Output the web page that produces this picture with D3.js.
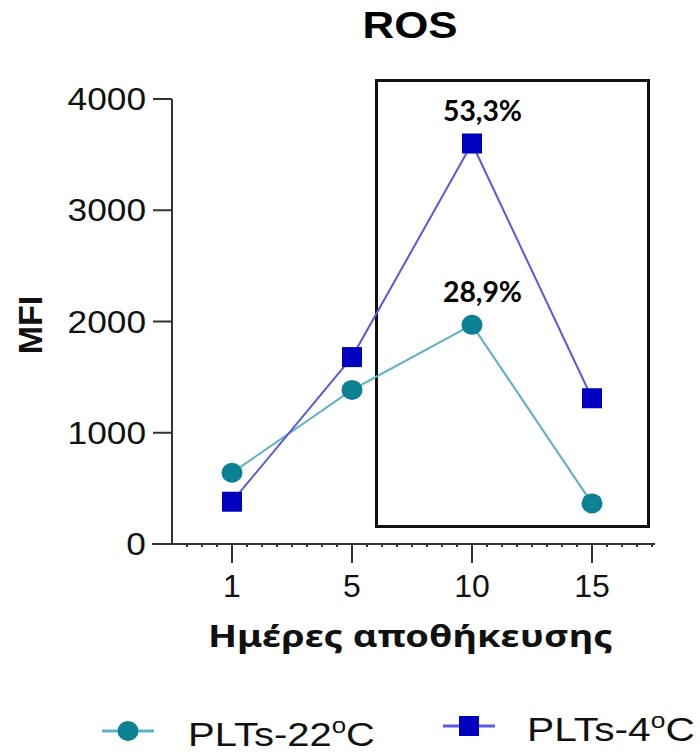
<!DOCTYPE html>
<html>
<head>
<meta charset="utf-8">
<script src="https://cdn.jsdelivr.net/npm/d3@7"></script>
<style>
  body { margin: 0; background: #fff; }
  svg { display: block; }
</style>
</head>
<body>
<div id="chart"></div>
<script>
// data
const days = ["1", "5", "10", "15"];
const plts22 = [640, 1385, 1970, 365];
const plts4 = [380, 1680, 3600, 1310];
const yTicks = [0, 1000, 2000, 3000, 4000];
const seriesNames = ["PLTs-22", "PLTs-4"];
const notes = ["28,9%", "53,3%"];

const W = 700, H = 755;
const svg = d3.select("#chart").append("svg").attr("width", W).attr("height", H);

const x = d3.scaleLinear().domain([-0.5, 3.525]).range([172, 655]);
const y = d3.scaleLinear().domain([0, 4000]).range([544, 99]);

const teal = "#0b8193", tealLine = "#5bb3bf";
const blue = "#0000c0", blueLine = "#5a5ae0";
const axisCol = "#333";

// stretch text horizontally to the width seen in the reference
function fitWidth(g, target) {
  const w = g.node().getBBox().width;
  const t = g.attr("data-t");
  g.attr("transform", t + ` scale(${target / w},1)`);
}

// title
const title = svg.append("g").attr("data-t", "translate(410,38)");
title.append("text").attr("text-anchor", "middle")
  .attr("font-family", "Liberation Sans, Arial, sans-serif")
  .attr("font-weight", "bold").attr("font-size", 37).attr("fill", "#000").text("ROS");
fitWidth(title, 95);

// y axis
svg.append("line").attr("x1", 172).attr("x2", 172).attr("y1", y(4000)).attr("y2", y(0))
  .attr("stroke", axisCol).attr("stroke-width", 2);
yTicks.forEach(v => {
  svg.append("line").attr("x1", 153).attr("x2", 172).attr("y1", y(v)).attr("y2", y(v))
    .attr("stroke", axisCol).attr("stroke-width", 2);
  const g = svg.append("g").attr("data-t", `translate(146,${y(v) + 11})`);
  g.append("text").attr("text-anchor", "end")
    .attr("font-family", "Liberation Sans, Arial, sans-serif")
    .attr("font-size", 31.5).attr("fill", "#111").text(v);
  g.attr("transform", g.attr("data-t") + " scale(1.12,1)");
});

// x axis
svg.append("line").attr("x1", 152).attr("x2", 655).attr("y1", y(0)).attr("y2", y(0))
  .attr("stroke", axisCol).attr("stroke-width", 2);
const minor = d3.range(-0.375, 3.53, 0.125).filter(v => Math.abs(v - Math.round(v)) > 0.01);
svg.selectAll("line.minor").data(minor).join("line").attr("class", "minor")
  .attr("x1", d => x(d)).attr("x2", d => x(d))
  .attr("y1", y(0)).attr("y2", y(0) + 3)
  .attr("stroke", axisCol).attr("stroke-width", 2);
days.forEach((d, i) => {
  svg.append("line").attr("x1", x(i)).attr("x2", x(i)).attr("y1", y(0)).attr("y2", y(0) + 19)
    .attr("stroke", axisCol).attr("stroke-width", 2);
  svg.append("text").attr("x", x(i)).attr("y", 597).attr("text-anchor", "middle")
    .attr("font-family", "Liberation Sans, Arial, sans-serif")
    .attr("font-size", 32).attr("fill", "#111").text(d);
});

// axis titles
const xt = svg.append("g").attr("data-t", "translate(208,647)");
xt.append("text").attr("font-family", "Noto Sans, Open Sans, sans-serif")
  .attr("font-weight", "bold").attr("font-size", 30).attr("fill", "#111").text("Ημέρες αποθήκευσης");
fitWidth(xt, 405);

svg.append("text").attr("transform", "translate(42,325) rotate(-90)")
  .attr("text-anchor", "middle")
  .attr("font-family", "Liberation Sans, Arial, sans-serif")
  .attr("font-weight", "bold").attr("font-size", 34).attr("fill", "#111").text("MFI");

// highlight box
svg.append("rect").attr("x", 376.5).attr("y", 80.5).attr("width", 272).attr("height", 446)
  .attr("fill", "none").attr("stroke", "#111").attr("stroke-width", 3);

// lines
const line = d3.line().x((d, i) => x(i)).y(d => y(d));
svg.append("path").datum(plts22).attr("d", line).attr("fill", "none")
  .attr("stroke", tealLine).attr("stroke-width", 2);
svg.append("path").datum(plts4).attr("d", line).attr("fill", "none")
  .attr("stroke", blueLine).attr("stroke-width", 2);

// markers
svg.selectAll("ellipse.m22").data(plts22).join("ellipse").attr("class", "m22")
  .attr("cx", (d, i) => x(i)).attr("cy", d => y(d)).attr("rx", 10.5).attr("ry", 10)
  .attr("fill", teal);
svg.selectAll("rect.m4").data(plts4).join("rect").attr("class", "m4")
  .attr("x", (d, i) => x(i) - 10).attr("y", d => y(d) - 10).attr("width", 20).attr("height", 20)
  .attr("fill", blue);

// percent labels above day 10
[[plts22[2], notes[0]], [plts4[2], notes[1]]].forEach(([v, txt]) => {
  const g = svg.append("g").attr("data-t", `translate(482.5,${y(v) - 23})`);
  g.append("text").attr("text-anchor", "middle")
    .attr("font-family", "Lato, Open Sans, sans-serif")
    .attr("font-weight", "bold").attr("font-size", 29).attr("fill", "#000").text(txt);
  fitWidth(g, 79);
});

// legend
const legendItems = [
  { name: seriesNames[0], col: teal, lineCol: tealLine, shape: "circle", lx: 102, ly: 731, tx: 188, tw: 187 },
  { name: seriesNames[1], col: blue, lineCol: blueLine, shape: "square", lx: 443, ly: 726, tx: 527, tw: 168 }
];
legendItems.forEach(it => {
  svg.append("line").attr("x1", it.lx).attr("x2", it.lx + 52).attr("y1", it.ly).attr("y2", it.ly)
    .attr("stroke", it.lineCol).attr("stroke-width", 3);
  if (it.shape === "circle") {
    svg.append("ellipse").attr("cx", it.lx + 26).attr("cy", it.ly).attr("rx", 10.5).attr("ry", 10).attr("fill", it.col);
  } else {
    svg.append("rect").attr("x", it.lx + 16).attr("y", it.ly - 10).attr("width", 20).attr("height", 20).attr("fill", it.col);
  }
  const g = svg.append("g").attr("data-t", `translate(${it.tx},${it.ly + 15})`);
  const t = g.append("text").attr("font-family", "Liberation Sans, Arial, sans-serif")
    .attr("font-size", 34).attr("fill", "#111");
  t.append("tspan").text(it.name);
  t.append("tspan").attr("font-size", 22).attr("dy", -13).text("o");
  t.append("tspan").attr("dy", 13).text("C");
  fitWidth(g, it.tw);
});
</script>
</body>
</html>
